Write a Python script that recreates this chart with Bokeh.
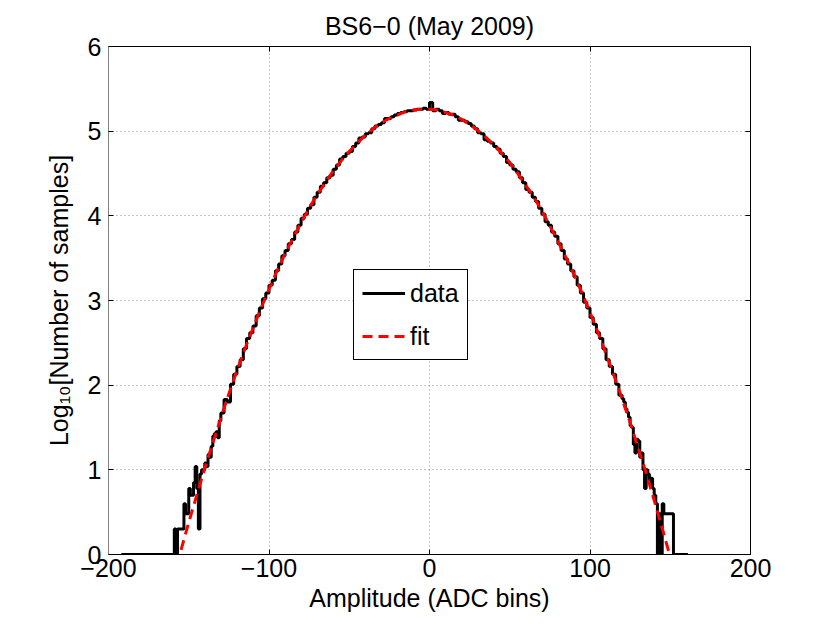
from bokeh.plotting import figure
from bokeh.models import (Range1d, LinearAxis, FixedTicker, CustomJSTickFormatter,
                          Legend, LegendItem)
from bokeh.embed import file_html
from bokeh.resources import INLINE

# ---------------- data ----------------
# left tail: explicit bin edges (ADC bins) and log10 counts
left_edges = [-192, -159, -158, -157, -156, -155, -154, -153, -152, -151, -150,
              -149, -148, -147, -146, -145, -144, -143, -142, -141, -140,
              -139, -138, -137, -136, -135, -134, -133, -132, -131, -130]
left_vals = [0.00, 0.30, 0.00, 0.30, 0.30, 0.30, 0.30, 0.60, 0.48, 0.48, 0.78,
             0.70, 0.70, 0.85, 1.04, 0.78, 0.30, 0.95, 1.00, 1.00, 1.08,
             1.04, 1.18, 1.15, 1.28, 1.40, 1.43, 1.45, 1.38, 1.58]

# central part: bins of width 2 from -130 to 120
mid_start = -130
mid_width = 2
mid_vals = [1.67, 1.83, 1.80, 2.01, 2.13, 2.22, 2.30, 2.43, 2.55, 2.62,
            2.70, 2.82, 2.91, 3.02, 3.09, 3.18, 3.24, 3.35, 3.43, 3.53,
            3.59, 3.67, 3.72, 3.81, 3.89, 3.97, 4.02, 4.09, 4.13, 4.22,
            4.28, 4.35, 4.39, 4.45, 4.48, 4.55, 4.60, 4.67, 4.70, 4.74,
            4.76, 4.82, 4.86, 4.92, 4.93, 4.97, 4.98, 5.03, 5.06, 5.08,
            5.10, 5.15, 5.15, 5.17, 5.19, 5.21, 5.22, 5.23, 5.24, 5.24,
            5.25, 5.26, 5.26, 5.27, 5.26, 5.34, 5.24, 5.26, 5.24, 5.21,
            5.22, 5.20, 5.20, 5.17, 5.13, 5.13, 5.11, 5.09, 5.06, 5.03,
            4.98, 4.97, 4.90, 4.88, 4.86, 4.82, 4.79, 4.74, 4.70, 4.63,
            4.60, 4.55, 4.52, 4.45, 4.39, 4.31, 4.28, 4.22, 4.17, 4.09,
            4.02, 3.93, 3.89, 3.81, 3.76, 3.67, 3.59, 3.49, 3.43, 3.35,
            3.28, 3.18, 3.09, 2.98, 2.91, 2.80, 2.72, 2.62, 2.55, 2.43,
            2.30, 2.22, 2.13, 2.01, 1.88]

# right tail
right_edges = [120, 121, 122, 123, 124, 125, 126, 127, 128, 129, 130,
               131, 132, 133, 134, 135, 136, 137, 138, 139, 140,
               141, 142, 143, 144, 145, 146, 147, 148, 149, 150,
               151, 152, 161]
right_vals = [1.84, 1.80, 1.72, 1.68, 1.62, 1.52, 1.50, 1.30, 1.20, 1.36,
              1.34, 1.15, 1.20, 1.00, 0.78, 1.00, 0.95, 0.85, 0.90, 0.78,
              0.70, 0.60, 0.00, 0.48, 0.00, 0.60, 0.48, 0.48, 0.48, 0.48,
              0.48, 0.48, 0.00]

# Gaussian fit curve
fit_x = [-160, -155, -150, -145, -140, -135, -130, -125, -120, -115, -110,
         -105, -100, -95, -90, -85, -80, -75, -70, -65, -60, -55, -50, -45,
         -40, -35, -30, -25, -20, -15, -10, -5, 0, 5, 10, 15, 20, 25, 30, 35,
         40, 45, 50, 55, 60, 65, 70, 75, 80, 85, 90, 95, 100, 105, 110, 115,
         120, 125, 130, 135, 140, 145, 150, 155]
fit_y = [-0.31, 0.04, 0.38, 0.70, 1.02, 1.32, 1.61, 1.90, 2.17, 2.43, 2.67,
         2.91, 3.13, 3.35, 3.55, 3.74, 3.92, 4.09, 4.25, 4.39, 4.53, 4.65,
         4.76, 4.86, 4.95, 5.03, 5.10, 5.15, 5.19, 5.23, 5.25, 5.26, 5.26,
         5.25, 5.22, 5.19, 5.14, 5.08, 5.01, 4.93, 4.84, 4.74, 4.63, 4.50,
         4.36, 4.22, 4.06, 3.88, 3.70, 3.51, 3.31, 3.09, 2.86, 2.62, 2.37,
         2.11, 1.84, 1.56, 1.26, 0.96, 0.64, 0.31, -0.03, -0.38]

x_ticks = [-200, -100, 0, 100, 200]
x_tick_labels = ["\u2212200", "\u2212100", "0", "100", "200"]
y_ticks = [0, 1, 2, 3, 4, 5, 6]

# ---------------- build step arrays ----------------
mid_edges = [mid_start + mid_width * i for i in range(len(mid_vals) + 1)]
edges = left_edges[:-1] + mid_edges[:-1] + right_edges
vals = left_vals + mid_vals + right_vals
step_x = edges
step_y = vals + [vals[-1]]

FONT = "Liberation Sans"
FS = "25px"

p = figure(frame_width=642, frame_height=508,
           output_backend="svg", toolbar_location=None,
           x_range=Range1d(-200, 200), y_range=Range1d(0, 6),
           min_border_left=108, min_border_right=64,
           min_border_top=46, min_border_bottom=54,
           title="BS6\u22120 (May 2009)")
p.outline_line_color = None
p.background_fill_color = "white"
p.border_fill_color = "white"

p.title.text_font = FONT
p.title.text_font_size = FS
p.title.text_font_style = "normal"
p.title.text_color = "black"
p.title.align = "center"
p.title.standoff = 14

# grids
for g in (p.xgrid, p.ygrid):
    g.grid_line_color = "#8c8c8c"
    g.grid_line_dash = "1 3"
    g.grid_line_width = 1
p.xgrid.ticker = FixedTicker(ticks=x_ticks)
p.ygrid.ticker = FixedTicker(ticks=y_ticks)

# main axes
xa = p.xaxis[0]
ya = p.yaxis[0]
xa.ticker = FixedTicker(ticks=x_ticks)
ya.ticker = FixedTicker(ticks=y_ticks)
xa.major_label_overrides = {t: l for t, l in zip(x_ticks, x_tick_labels)}
for ax in (xa, ya):
    ax.major_tick_in = 5
    ax.major_tick_out = 0
    ax.minor_tick_line_color = None
    ax.major_label_text_font = FONT
    ax.major_label_text_font_size = FS
    ax.major_label_text_color = "black"
    ax.axis_label_text_font = FONT
    ax.axis_label_text_font_size = FS
    ax.axis_label_text_font_style = "normal"
    ax.axis_label_text_color = "black"
    ax.major_tick_line_color = "black"
xa.axis_line_color = "black"
ya.axis_line_color = "#808080"
xa.axis_label = "Amplitude (ADC bins)"
ya.axis_label = "Log\u2081\u2080[Number of samples]"
xa.major_label_standoff = 4
ya.major_label_standoff = 7
xa.axis_label_standoff = 4
ya.axis_label_standoff = 12

# top and right axes (ticks only)
blank = CustomJSTickFormatter(code="return ''")
top = LinearAxis(ticker=FixedTicker(ticks=x_ticks), formatter=blank,
                 major_tick_in=5, major_tick_out=0, minor_tick_line_color=None,
                 axis_line_color="black", major_label_text_font_size="1px",
                 major_label_standoff=0)
right = LinearAxis(ticker=FixedTicker(ticks=y_ticks), formatter=blank,
                   major_tick_in=5, major_tick_out=0, minor_tick_line_color=None,
                   axis_line_color="black", major_label_text_font_size="1px",
                   major_label_standoff=0)
p.add_layout(top, "above")
p.add_layout(right, "right")

# glyphs
r_data = p.step(step_x, step_y, mode="after", line_color="black", line_width=3)
r_fit = p.line(fit_x, fit_y, line_color="red", line_width=3, line_dash="10 6")

legend = Legend(items=[LegendItem(label="data", renderers=[r_data]),
                       LegendItem(label="fit", renderers=[r_fit])],
                location=(245, 194))
legend.label_text_font = FONT
legend.label_text_font_size = FS
legend.label_text_color = "black"
legend.glyph_width = 43
legend.glyph_height = 30
legend.label_height = 30
legend.spacing = 13
legend.padding = 8
legend.margin = 0
legend.label_standoff = 5
legend.border_line_color = "black"
legend.border_line_alpha = 1.0
legend.border_line_width = 1
legend.background_fill_alpha = 1.0
p.add_layout(legend, "center")

open("out.html", "w").write(file_html(p, INLINE))
